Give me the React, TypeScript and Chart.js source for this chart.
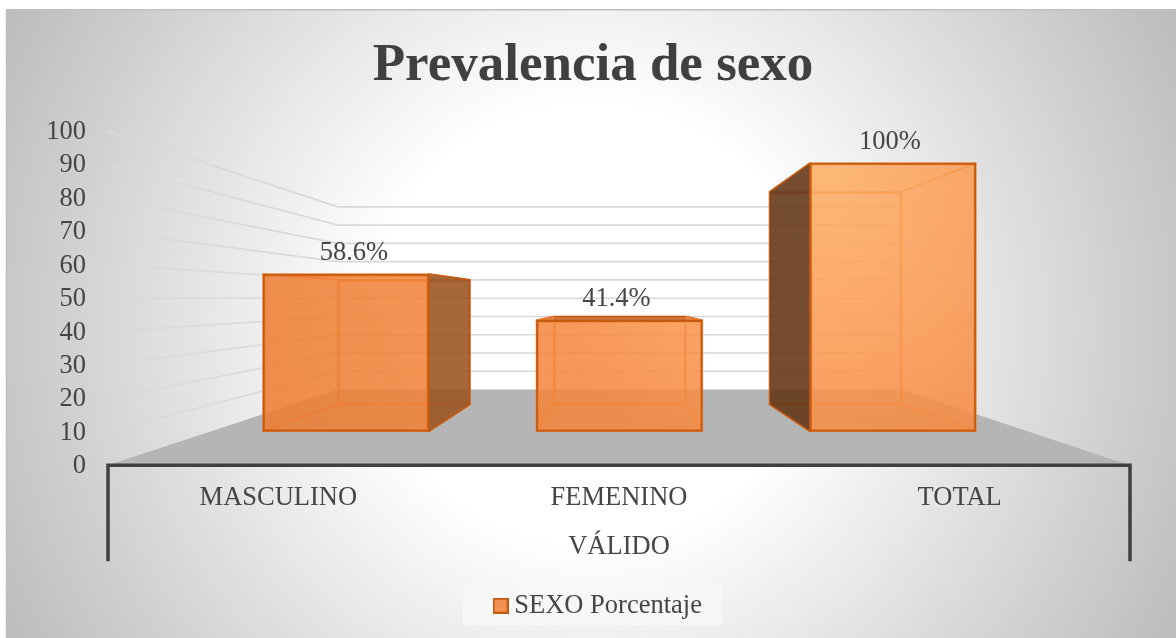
import React, { useEffect, useRef } from "react";
import { Chart, registerables } from "chart.js";

Chart.register(...registerables);

const chartTitle = "Prevalencia de sexo";
const categories = ["MASCULINO", "FEMENINO", "TOTAL"];
const groupLabel = "VÁLIDO";
const seriesName = "SEXO Porcentaje";
const seriesValues = [58.6, 41.4, 100];
const valueLabels = ["58.6%", "41.4%", "100%"];

const SERIF = "'Liberation Serif', 'Times New Roman', serif";
const TEXT = "#454545";
const FONT_SIZE = 26.5;

const labelNudge = [8, -3, -3];
const LEGEND_DROP = 4;

function polygon(ctx: CanvasRenderingContext2D, pts: number[][]) {
  ctx.beginPath();
  pts.forEach((p, i) => (i ? ctx.lineTo(p[0], p[1]) : ctx.moveTo(p[0], p[1])));
  ctx.closePath();
}

function frontFill(c: any) {
  const chart = c.chart;
  const g = chart.ctx.createRadialGradient(830, 170, 0, 830, 170, 600);
  g.addColorStop(0, "rgba(255,181,106,0.75)");
  g.addColorStop(0.25, "rgba(255,160,90,0.75)");
  g.addColorStop(0.5, "rgba(247,138,64,0.75)");
  g.addColorStop(1, "rgba(237,125,50,0.75)");
  return g;
}

function legendSwatch() {
  const c = document.createElement("canvas");
  c.width = 16;
  c.height = 16;
  const x = c.getContext("2d") as CanvasRenderingContext2D;
  x.fillStyle = "#f2914f";
  x.fillRect(0, 0, 16, 16);
  x.strokeStyle = "#c55a11";
  x.lineWidth = 2;
  x.strokeRect(1, 1, 14, 14);
  return c;
}

const scene = {
  id: "scene",
  afterLayout(chart: any) {
    chart.legend.left += 21;
    chart.legend.right += 21;
    chart.legend.top += LEGEND_DROP;
    chart.titleBlock.left += 13;
    chart.titleBlock.right += 13;
  },
  beforeDraw(chart: any) {
    const { ctx, width, height } = chart;
    ctx.save();
    ctx.fillStyle = "#ffffff";
    ctx.fillRect(0, 0, width, height);
    const g = ctx.createRadialGradient(590, 324, 0, 590, 324, 662);
    g.addColorStop(0, "#ffffff");
    g.addColorStop(0.33, "#ffffff");
    g.addColorStop(1, "#bcbcbc");
    ctx.fillStyle = g;
    ctx.fillRect(6, 9, width - 6, height - 9);
    ctx.strokeStyle = "#bfbfbf";
    ctx.lineWidth = 1.5;
    ctx.beginPath();
    ctx.moveTo(6.5, height);
    ctx.lineTo(6.5, 9.75);
    ctx.lineTo(width, 9.75);
    ctx.stroke();
    ctx.fillStyle = "rgba(247,247,247,0.9)";
    ctx.fillRect(463, chart.legend.top - LEGEND_DROP, 259, chart.legend.height);
    ctx.restore();
  },
  beforeDatasetsDraw(chart: any) {
    const { ctx, scales } = chart;
    const back = chart.getDatasetMeta(1).data;
    const wallLeft = back[0].x - back[0].width / 2;
    const wallRight = back[2].x + back[2].width / 2;
    const y = scales.y;
    const yWall = scales.yWall;
    ctx.save();
    ctx.fillStyle = "#b5b5b5";
    polygon(ctx, [
      [chart.chartArea.left, y.getPixelForValue(0)],
      [wallLeft, yWall.getPixelForValue(0)],
      [wallRight, yWall.getPixelForValue(0)],
      [chart.chartArea.right, y.getPixelForValue(0)],
    ]);
    ctx.fill();
    ctx.strokeStyle = "#d9d9d9";
    ctx.lineWidth = 1.6;
    y.ticks.forEach((t: any) => {
      if (t.value === 0) return;
      ctx.beginPath();
      ctx.moveTo(chart.chartArea.left, y.getPixelForValue(t.value));
      ctx.lineTo(wallLeft, yWall.getPixelForValue(t.value));
      ctx.lineTo(wallRight, yWall.getPixelForValue(t.value));
      ctx.stroke();
    });
    ctx.restore();
  },
  beforeDatasetDraw(chart: any, args: any) {
    if (args.index !== 0) return;
    const { ctx } = chart;
    const front = chart.getDatasetMeta(0).data;
    const back = chart.getDatasetMeta(1).data;
    const inner = "rgba(237,125,49,0.45)";
    const innerEdge = "rgba(237,125,49,0.8)";
    const outerEdge = "#c55a11";
    const face = (pts: number[][], outer: boolean, fill: string) => {
      polygon(ctx, pts);
      ctx.fillStyle = outer ? fill : inner;
      ctx.fill();
      ctx.lineWidth = 1.5;
      ctx.lineJoin = "round";
      ctx.strokeStyle = outer ? outerEdge : innerEdge;
      ctx.stroke();
    };
    ctx.save();
    front.forEach((f: any, i: number) => {
      const b = back[i];
      const fl = f.x - f.width / 2, fr = f.x + f.width / 2;
      const bl = b.x - b.width / 2, br = b.x + b.width / 2;
      const ft = f.y, fb = f.base, bt = b.y, bb = b.base;
      face([[fl, fb], [fr, fb], [br, bb], [bl, bb]], false, inner);
      face([[fl, ft], [fr, ft], [br, bt], [bl, bt]], bt < ft, "rgba(190,100,40,0.7)");
      face([[fl, ft], [bl, bt], [bl, bb], [fl, fb]], bl < fl, "rgba(84,46,20,0.8)");
      face([[fr, ft], [br, bt], [br, bb], [fr, fb]], br > fr, "rgba(145,80,32,0.8)");
    });
    ctx.restore();
  },
  afterDatasetsDraw(chart: any) {
    const { ctx } = chart;
    const front = chart.getDatasetMeta(0).data;
    ctx.save();
    ctx.font = `${FONT_SIZE}px ${SERIF}`;
    ctx.fillStyle = TEXT;
    ctx.textAlign = "center";
    ctx.textBaseline = "middle";
    front.forEach((f: any, i: number) => {
      ctx.fillText(valueLabels[i], f.x + labelNudge[i], f.y - 21);
    });
    ctx.restore();
  },
  afterDraw(chart: any) {
    const { ctx, chartArea, scales } = chart;
    const y0 = scales.y.getPixelForValue(0);
    const drop = 96;
    ctx.save();
    ctx.strokeStyle = "#404040";
    ctx.lineWidth = 3.5;
    ctx.beginPath();
    ctx.moveTo(chartArea.left, y0 + drop);
    ctx.lineTo(chartArea.left, y0);
    ctx.lineTo(chartArea.right, y0);
    ctx.lineTo(chartArea.right, y0 + drop);
    ctx.stroke();
    ctx.restore();
  },
};

export default function App() {
  const ref = useRef<HTMLCanvasElement>(null);
  useEffect(() => {
    const swatch = legendSwatch();
    const chart = new Chart(ref.current as HTMLCanvasElement, {
      type: "bar",
      data: {
        labels: categories,
        datasets: [
          {
            label: seriesName,
            data: seriesValues.map((v, i) => ({ x: i, y: v })),
            xAxisID: "xFront",
            yAxisID: "yFront",
            order: 1,
            grouped: false,
            barThickness: 166,
            backgroundColor: frontFill,
            borderColor: "#c55a11",
            borderWidth: 2,
            borderSkipped: false,
          },
          {
            label: seriesName + " (fondo)",
            data: seriesValues.map((v, i) => ({ x: i, y: v })),
            xAxisID: "xBack",
            yAxisID: "yBack",
            order: 2,
            grouped: false,
            barThickness: 132,
            backgroundColor: "rgba(237,125,49,0.45)",
            borderColor: "rgba(237,125,49,0.85)",
            borderWidth: 1.5,
            borderSkipped: false,
          },
        ],
      } as any,
      options: {
        responsive: false,
        animation: false,
        layout: { padding: { left: 30, right: 46, top: 0, bottom: 13 } },
        scales: {
          x: {
            type: "category",
            offset: true,
            grid: { display: false },
            border: { display: false },
            ticks: {
              color: TEXT,
              font: { family: SERIF, size: FONT_SIZE },
              padding: 9,
              maxRotation: 0,
            },
            title: {
              display: true,
              text: groupLabel,
              color: TEXT,
              font: { family: SERIF, size: FONT_SIZE },
              padding: { top: 0, bottom: 21 },
            },
            afterFit(s: any) {
              s.height = 119;
            },
          },
          y: {
            type: "linear",
            min: 0,
            max: 100,
            grid: { display: false, drawTicks: false },
            border: { display: false },
            ticks: {
              stepSize: 10,
              autoSkip: false,
              color: TEXT,
              font: { family: SERIF, size: FONT_SIZE },
              padding: 22,
              labelOffset: 1,
            },
            afterFit(s: any) {
              s.width = 78;
            },
          },
          xFront: { type: "linear", display: false, offset: false, min: -0.87, max: 2.867 },
          xBack: { type: "linear", display: false, offset: false, min: -1.372, max: 3.365 },
          yFront: { type: "linear", display: false, min: -12.64, max: 111.9 },
          yBack: { type: "linear", display: false, min: -28.64, max: 128.6 },
          yWall: { type: "linear", display: false, min: -41.5, max: 141.5 },
        },
        plugins: {
          title: {
            display: true,
            text: chartTitle,
            color: "#404040",
            font: { family: SERIF, size: 53, weight: "bold" },
            padding: { top: 34.5, bottom: 33 },
          },
          legend: {
            position: "bottom",
            labels: {
              color: TEXT,
              font: { family: SERIF, size: FONT_SIZE },
              padding: 4.25,
              usePointStyle: true,
              pointStyleWidth: 1,
              boxHeight: 15,
              generateLabels: (c: any) => [
                {
                  text: c.data.datasets[0].label,
                  fontColor: TEXT,
                  pointStyle: swatch,
                  datasetIndex: 0,
                },
              ],
            },
          },
          tooltip: { enabled: false },
        },
      } as any,
      plugins: [scene],
    });
    return () => chart.destroy();
  }, []);
  return (
    <canvas
      ref={ref}
      width={1176}
      height={638}
      style={{ position: "absolute", left: 0, top: 0, display: "block" }}
    />
  );
}
